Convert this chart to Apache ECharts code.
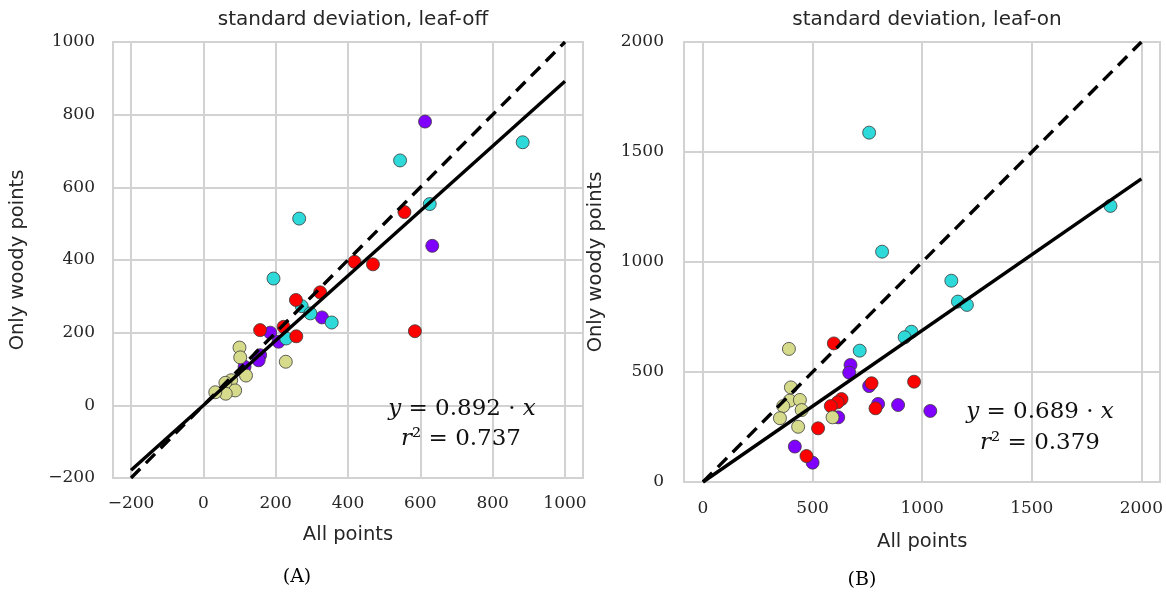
<!DOCTYPE html>
<html>
<head>
<meta charset="utf-8">
<script src="https://cdn.jsdelivr.net/npm/echarts@6/dist/echarts.min.js"></script>
<style>
html,body{margin:0;padding:0;background:#fff;}
#chart{width:1166px;height:593px;}
</style>
</head>
<body>
<div id="chart"></div>
<script>
// ---------- data: panel A (leaf-off) ----------
const offPurple = [[613,781],[633,439],[328,242],[185,200],[208,175],[157,138],[153,124],[114,106]];
const offCyan   = [[883,724],[544,674],[626,554],[265,514],[194,349],[272,273],[296,253],[355,228],[229,184]];
const offRed    = [[556,532],[418,395],[469,388],[323,311],[256,290],[157,207],[222,216],[257,190],[585,204]];
const offKhaki  = [[100,159],[102,132],[228,120],[118,82],[77,69],[61,62],[88,41],[62,32],[33,36]];
const offSlope = 0.892;
const offR2 = 0.737;
const offLineRange = [-200, 1000];
const offTicks = [-200, 0, 200, 400, 600, 800, 1000];

// ---------- data: panel B (leaf-on) ----------
const onPurple = [[673,532],[667,497],[758,436],[799,355],[890,350],[1037,323],[617,294],[419,161],[500,88]];
const onCyan   = [[758,1588],[817,1047],[1133,915],[1163,820],[1204,805],[951,683],[920,658],[715,597],[1859,1255]];
const onRed    = [[597,630],[769,449],[963,456],[632,377],[614,362],[583,345],[787,335],[525,244],[472,118]];
const onKhaki  = [[392,605],[401,430],[396,370],[442,373],[366,345],[450,327],[351,290],[434,251],[591,294]];
const onSlope = 0.689;
const onR2 = 0.379;
const onLineRange = [0, 2000];
const onTicks = [0, 500, 1000, 1500, 2000];

const titles = ['standard deviation, leaf-off', 'standard deviation, leaf-on'];
const xName = 'All points';
const yName = 'Only woody points';
const panelTags = ['(A)', '(B)'];

// ---------- styling ----------
const COLORS = { purple: '#8000ff', cyan: '#2ed9d9', red: '#ff0000', khaki: '#d6db8c' };
const GRIDC = '#d2d2d2';
const TXT = '#262626';
const tickFont = { fontFamily: 'DejaVu Serif', fontSize: 17, color: TXT };
const fmt = v => (v < 0 ? '\u2212' + Math.abs(v) : String(v));

const chart = echarts.init(document.getElementById('chart'), null, { renderer: 'canvas' });

function scatter(name, data, xi, yi, color) {
  return {
    type: 'scatter', name, data, xAxisIndex: xi, yAxisIndex: yi,
    symbol: 'circle', symbolSize: 13, z: 2,
    itemStyle: { color, borderColor: '#3a3a3a', borderWidth: 0.8, opacity: 1 },
    emphasis: { disabled: true }
  };
}
function line(range, slope, xi, yi, dashed) {
  return {
    type: 'line', xAxisIndex: xi, yAxisIndex: yi, symbol: 'none', z: 5,
    data: range.map(x => [x, slope * x]),
    lineStyle: { color: '#000', width: 3.4, type: dashed ? [13, 8] : 'solid', cap: 'butt' },
    emphasis: { disabled: true }, silent: true
  };
}

const frameGrid = (l, t, w, h) => ({ left: l, top: t, width: w, height: h, show: true, borderColor: GRIDC, borderWidth: 2, backgroundColor: '#fff', containLabel: false });
const dataGrid = (l, t, w, h) => ({ left: l, top: t, width: w, height: h, show: false, containLabel: false });

const hiddenX = gi => ({ type: 'value', gridIndex: gi, min: 0, max: 1, show: false });
const fText = { fontFamily: 'DejaVu Serif', fontSize: 23, fill: '#111', align: 'center', verticalAlign: 'middle' };
const richI = { i: { fontStyle: 'italic', fontFamily: 'DejaVu Serif', fontSize: 23, fill: '#111' } };

const option = {
  animation: false,
  backgroundColor: '#fff',
  title: [
    { text: titles[0], left: 348, top: 5, textAlign: 'center', textStyle: { fontFamily: 'DejaVu Sans', fontSize: 20, fontWeight: 'normal', color: TXT } },
    { text: titles[1], left: 922, top: 5, textAlign: 'center', textStyle: { fontFamily: 'DejaVu Sans', fontSize: 20, fontWeight: 'normal', color: TXT } }
  ],
  grid: [
    frameGrid(113, 42, 470, 436),
    dataGrid(131, 42, 434, 436),
    frameGrid(684, 42, 476, 440),
    dataGrid(703, 42, 439, 440)
  ],
  xAxis: [
    hiddenX(0),
    {
      type: 'value', gridIndex: 1, min: offTicks[0], max: offTicks[offTicks.length - 1], interval: 200,
      axisLine: { show: false }, axisTick: { show: false },
      splitLine: { show: true, lineStyle: { color: GRIDC, width: 2 } },
      axisLabel: Object.assign({ margin: 17, formatter: fmt }, tickFont),
      name: xName, nameLocation: 'middle', nameGap: 47,
      nameTextStyle: { fontFamily: 'DejaVu Sans', fontSize: 19.5, color: TXT }
    },
    hiddenX(2),
    {
      type: 'value', gridIndex: 3, min: onTicks[0], max: onTicks[onTicks.length - 1], interval: 500,
      axisLine: { show: false }, axisTick: { show: false },
      splitLine: { show: true, lineStyle: { color: GRIDC, width: 2 } },
      axisLabel: Object.assign({ margin: 18, formatter: fmt }, tickFont),
      name: xName, nameLocation: 'middle', nameGap: 50,
      nameTextStyle: { fontFamily: 'DejaVu Sans', fontSize: 19.5, color: TXT }
    }
  ],
  yAxis: [
    {
      type: 'value', gridIndex: 0, min: offTicks[0], max: offTicks[offTicks.length - 1], interval: 200,
      axisLine: { show: false }, axisTick: { show: false },
      splitLine: { show: true, lineStyle: { color: GRIDC, width: 2 } },
      axisLabel: Object.assign({ margin: 18, formatter: fmt }, tickFont),
      name: yName, nameLocation: 'middle', nameGap: 85,
      nameTextStyle: { fontFamily: 'DejaVu Sans', fontSize: 19.5, color: TXT }
    },
    { type: 'value', gridIndex: 1, min: offTicks[0], max: offTicks[offTicks.length - 1], show: false, splitLine: { show: false } },
    {
      type: 'value', gridIndex: 2, min: onTicks[0], max: onTicks[onTicks.length - 1], interval: 500,
      axisLine: { show: false }, axisTick: { show: false },
      splitLine: { show: true, lineStyle: { color: GRIDC, width: 2 } },
      axisLabel: Object.assign({ margin: 20, formatter: fmt }, tickFont),
      name: yName, nameLocation: 'middle', nameGap: 78,
      nameTextStyle: { fontFamily: 'DejaVu Sans', fontSize: 19.5, color: TXT }
    },
    { type: 'value', gridIndex: 3, min: onTicks[0], max: onTicks[onTicks.length - 1], show: false, splitLine: { show: false } }
  ],
  series: [
    scatter('off-purple', offPurple, 1, 1, COLORS.purple),
    scatter('off-cyan', offCyan, 1, 1, COLORS.cyan),
    scatter('off-red', offRed, 1, 1, COLORS.red),
    scatter('off-khaki', offKhaki, 1, 1, COLORS.khaki),
    line(offLineRange, 1, 1, 1, true),
    line(offLineRange, offSlope, 1, 1, false),
    scatter('on-purple', onPurple, 3, 3, COLORS.purple),
    scatter('on-cyan', onCyan, 3, 3, COLORS.cyan),
    scatter('on-red', onRed, 3, 3, COLORS.red),
    scatter('on-khaki', onKhaki, 3, 3, COLORS.khaki),
    line(onLineRange, 1, 3, 3, true),
    line(onLineRange, onSlope, 3, 3, false)
  ],
  graphic: [
    { type: 'text', x: 462, y: 409, z: 10, style: Object.assign({ text: '{i|y} = ' + offSlope.toFixed(3) + ' \u00b7 {i|x}', rich: richI }, fText) },
    { type: 'text', x: 461, y: 439, z: 10, style: Object.assign({ text: '{i|r}\u00b2 = ' + offR2.toFixed(3), rich: richI }, fText) },
    { type: 'text', x: 1040, y: 412, z: 10, style: Object.assign({ text: '{i|y} = ' + onSlope.toFixed(3) + ' \u00b7 {i|x}', rich: richI }, fText) },
    { type: 'text', x: 1040, y: 443, z: 10, style: Object.assign({ text: '{i|r}\u00b2 = ' + onR2.toFixed(3), rich: richI }, fText) },
    { type: 'text', x: 297, y: 577, style: { text: panelTags[0], fontFamily: 'DejaVu Serif', fontSize: 19, fill: '#000', align: 'center', verticalAlign: 'middle' } },
    { type: 'text', x: 862, y: 580, style: { text: panelTags[1], fontFamily: 'DejaVu Serif', fontSize: 19, fill: '#000', align: 'center', verticalAlign: 'middle' } }
  ]
};
chart.setOption(option);
</script>
</body>
</html>
